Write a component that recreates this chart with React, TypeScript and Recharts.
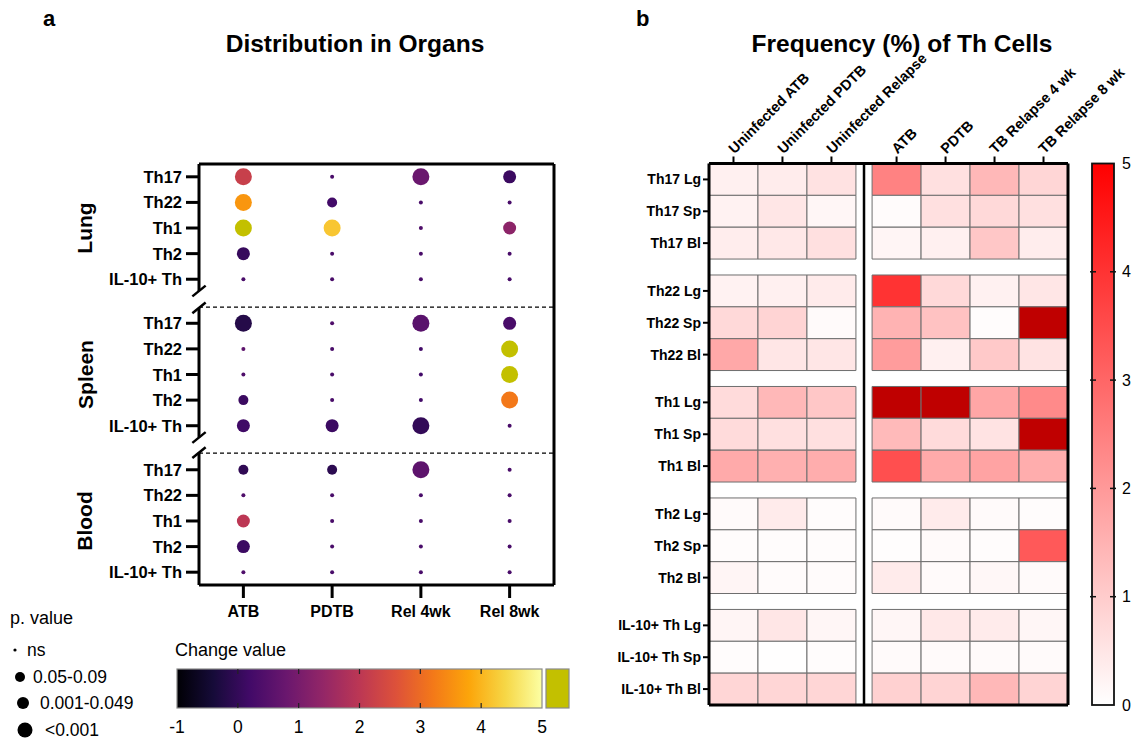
import React from 'react';
import { ScatterChart, Scatter, XAxis, YAxis, ReferenceLine, ReferenceArea } from 'recharts';

const FONT = "Arial, 'Liberation Sans', Helvetica, sans-serif";

// ---------------- Panel a data ----------------
const dotColumns = ['ATB', 'PDTB', 'Rel 4wk', 'Rel 8wk'];
const cellTypes = ['Th17', 'Th22', 'Th1', 'Th2', 'IL-10+ Th'];
const organs = ['Lung', 'Spleen', 'Blood'];
const pLabels = ['ns', '0.05-0.09', '0.001-0.049', '<0.001'];
const changeTicks = [-1, 0, 1, 2, 3, 4, 5];

// change value per cell type (rows) x column
const changeLung = [
  [2.2, 0.3, 0.8, 0.1],
  [3.6, 0.2, 0.3, 0.3],
  [5.5, 4.2, 0.4, 1.3],
  [0.05, 0.3, 0.3, 0.3],
  [0.3, 0.3, 0.3, 0.3],
];
const changeSpleen = [
  [-0.2, 0.4, 0.55, 0.3],
  [0.6, 0.3, 0.2, 5.5],
  [0.4, 0.3, 0.2, 5.5],
  [0.1, 0.3, 0.2, 3.2],
  [0.17, 0.12, 0.0, 0.3],
];
const changeBlood = [
  [-0.05, -0.1, 0.6, 0.3],
  [0.4, 0.3, 0.3, 0.3],
  [2.0, 0.3, 0.3, 0.3],
  [0.12, 0.3, 0.3, 0.3],
  [0.4, 0.3, 0.3, 0.3],
];
// p-value class: 0 ns, 1 0.05-0.09, 2 0.001-0.049, 3 <0.001
const pLung = [
  [3, 0, 3, 2],
  [3, 1, 0, 0],
  [3, 3, 0, 2],
  [2, 0, 0, 0],
  [0, 0, 0, 0],
];
const pSpleen = [
  [3, 0, 3, 2],
  [0, 0, 0, 3],
  [0, 0, 0, 3],
  [1, 0, 0, 3],
  [2, 2, 3, 0],
];
const pBlood = [
  [1, 1, 3, 0],
  [0, 0, 0, 0],
  [2, 0, 0, 0],
  [2, 0, 0, 0],
  [0, 0, 0, 0],
];

// ---------------- Panel b data ----------------
const heatColumns = ['Uninfected ATB', 'Uninfected PDTB', 'Uninfected Relapse', 'ATB', 'PDTB', 'TB Relapse 4 wk', 'TB Relapse 8 wk'];
const heatCellTypes = ['Th17', 'Th22', 'Th1', 'Th2', 'IL-10+ Th'];
const heatOrgans = ['Lg', 'Sp', 'Bl'];
const freqTicks = [0, 1, 2, 3, 4, 5];

const freqTh17 = [
  [0.3, 0.37, 0.57, 2.45, 0.6, 1.4, 0.8],
  [0.25, 0.5, 0.17, 0.08, 0.6, 0.75, 0.6],
  [0.35, 0.45, 0.6, 0.2, 0.3, 1.1, 0.35],
];
const freqTh22 = [
  [0.25, 0.3, 0.4, 4.0, 0.75, 0.27, 0.5],
  [0.75, 0.85, 0.1, 1.5, 1.2, 0.05, 6],
  [1.7, 0.5, 0.5, 1.95, 0.3, 1.05, 0.55],
];
const freqTh1 = [
  [0.7, 1.4, 1.1, 6, 6, 1.75, 2.3],
  [0.7, 0.6, 0.6, 1.35, 0.7, 0.55, 6],
  [1.67, 1.55, 1.6, 3.45, 1.67, 1.8, 1.6],
];
const freqTh2 = [
  [0.1, 0.4, 0.05, 0.1, 0.4, 0.1, 0.05],
  [0.05, 0.05, 0.05, 0.03, 0.1, 0.05, 3.25],
  [0.2, 0.08, 0.08, 0.4, 0.1, 0.15, 0.1],
];
const freqIL10 = [
  [0.2, 0.5, 0.17, 0.17, 0.45, 0.4, 0.17],
  [0.05, 0.02, 0.05, 0.1, 0.1, 0.1, 0.1],
  [0.8, 0.8, 0.8, 0.9, 0.85, 1.4, 0.85],
];

// ---------------- layout constants ----------------
const ORGAN_OFFSET = [0, 5.72, 11.44];
const DOT_Y_DOMAIN: [number, number] = [-0.5, 15.94];
const DASH_Y = [5.09, 10.79];
const AXIS_SEGMENTS = [[-0.5, 4.46], [5.12, 10.18], [10.77, 15.94]];
const SLASH_Y = [4.46, 5.12, 10.18, 10.77];
const DOT_R = [2, 5, 6.5, 8.5];
const LEGEND_R = [1.6, 5, 6, 7.5];

const HEAT_COL_POS = [0, 1, 2, 3.33, 4.33, 5.33, 6.33];
const HEAT_GROUP_STEP = 3.5;
const HEAT_X_DOMAIN: [number, number] = [-0.5, 6.83];
const HEAT_Y_DOMAIN: [number, number] = [-0.5, 16.5];

// ---------------- colour maps ----------------
const INFERNO = ['#000004', '#160b39', '#420a68', '#6a176e', '#932667', '#bc3754', '#dd513a', '#f37819', '#fca50a', '#f6d746', '#fcffa4'];
const OVER_COLOR_A = '#c3c000';
const OVER_COLOR_B = '#bf0000';

function hexRgb(h: string) {
  return [parseInt(h.slice(1, 3), 16), parseInt(h.slice(3, 5), 16), parseInt(h.slice(5, 7), 16)];
}
function inferno(v: number) {
  if (v > 5) return OVER_COLOR_A;
  const t = Math.min(1, Math.max(0, (v + 1) / 6)) * 10;
  const i = Math.min(9, Math.floor(t));
  const f = t - i;
  const a = hexRgb(INFERNO[i]);
  const b = hexRgb(INFERNO[i + 1]);
  const c = a.map((av, k) => Math.round(av + (b[k] - av) * f));
  return `rgb(${c[0]},${c[1]},${c[2]})`;
}
function heatColor(v: number) {
  if (v > 5) return OVER_COLOR_B;
  const g = Math.round(255 * (1 - Math.max(0, v) / 5));
  return `rgb(255,${g},${g})`;
}

// ---------------- derived data ----------------
const changeByOrgan = [changeLung, changeSpleen, changeBlood];
const pByOrgan = [pLung, pSpleen, pBlood];
const dotData = organs.flatMap((organ, oi) =>
  cellTypes.flatMap((cell, ci) =>
    dotColumns.map((col, xi) => ({
      x: xi,
      y: ORGAN_OFFSET[oi] + ci,
      v: changeByOrgan[oi][ci][xi],
      p: pByOrgan[oi][ci][xi],
    }))
  )
);
const dotRows = organs.flatMap((organ, oi) =>
  cellTypes.map((cell, ci) => ({ pos: ORGAN_OFFSET[oi] + ci, label: cell, organ, middle: ci === 2 }))
);
const dotRowTicks = dotRows.map((r) => r.pos);

const heatByType = [freqTh17, freqTh22, freqTh1, freqTh2, freqIL10];
const heatCells = heatByType.flatMap((rows, gi) =>
  rows.flatMap((vals, ri) =>
    vals.map((v, ci) => ({ x: HEAT_COL_POS[ci], y: gi * HEAT_GROUP_STEP + ri, v }))
  )
);
const heatRows = heatCellTypes.flatMap((t, gi) =>
  heatOrgans.map((o, ri) => ({ pos: gi * HEAT_GROUP_STEP + ri, label: `${t} ${o}` }))
);
const heatRowTicks = heatRows.map((r) => r.pos);

// ---------------- tick renderers ----------------
const DotRowTick = (props: any) => {
  const { x, y, payload } = props;
  const info = dotRows.find((r) => Math.abs(r.pos - payload.value) < 1e-6);
  if (!info) return <g />;
  const gx = x - 97;
  return (
    <g>
      <text x={x} y={y} textAnchor="end" dominantBaseline="central" fontWeight="bold" fontSize={16.5} fill="#000" fontFamily={FONT}>
        {info.label}
      </text>
      {info.middle && (
        <text x={gx} y={y} transform={`rotate(-90 ${gx} ${y})`} textAnchor="middle" dominantBaseline="central" fontWeight="bold" fontSize={21} fill="#000" fontFamily={FONT}>
          {info.organ}
        </text>
      )}
    </g>
  );
};

const HeatRowTick = (props: any) => {
  const { x, y, payload } = props;
  const info = heatRows.find((r) => Math.abs(r.pos - payload.value) < 1e-6);
  if (!info) return <g />;
  return (
    <text x={x} y={y} textAnchor="end" dominantBaseline="central" fontWeight="bold" fontSize={14} fill="#000" fontFamily={FONT}>
      {info.label}
    </text>
  );
};

const HeatColTick = (props: any) => {
  const { x, y, payload } = props;
  const idx = HEAT_COL_POS.findIndex((p) => Math.abs(p - payload.value) < 1e-6);
  if (idx < 0) return <g />;
  const ax = x + 1;
  return (
    <text x={ax} y={y} transform={`rotate(-45 ${ax} ${y})`} textAnchor="start" fontWeight="bold" fontSize={14.5} fill="#000" fontFamily={FONT}>
      {heatColumns[idx]}
    </text>
  );
};

const renderDot = (props: any) => {
  const { cx, cy, payload } = props;
  if (cx == null || cy == null) return <g />;
  return <circle cx={cx} cy={cy} r={DOT_R[payload.p]} fill={inferno(payload.v)} />;
};

const noShape = () => <g />;

// ---------------- component ----------------
export default function App() {
  const slashDx = 0.075;
  const slashDy = 0.21;

  // legend a geometry
  const cbX0 = 177;
  const cbX1 = 542;
  const cbY0 = 669;
  const cbY1 = 708;
  const cbPos = (v: number) => cbX0 + ((v + 1) / 6) * (cbX1 - cbX0);

  // legend b geometry
  const hbX0 = 1092;
  const hbX1 = 1114;
  const hbY0 = 163.5;
  const hbY1 = 705;
  const hbPos = (v: number) => hbY1 - (v / 5) * (hbY1 - hbY0);

  const legendRows = [650, 677, 703, 730];
  const legendDotX = [15, 20, 23, 25];
  const legendTextX = [27, 33, 40, 45];

  return (
    <div style={{ position: 'absolute', left: 0, top: 0, width: 1133, height: 741, background: '#fff', fontFamily: FONT }}>
      {/* Panel a chart */}
      <div style={{ position: 'absolute', left: 0, top: 0 }}>
        <ScatterChart width={600} height={741} margin={{ top: 164, right: 46, bottom: 116, left: 10 }}>
          <XAxis
            type="number"
            dataKey="x"
            domain={[-0.5, 3.5]}
            ticks={[0, 1, 2, 3]}
            interval={0}
            allowDataOverflow
            tickFormatter={(v: number) => dotColumns[v] ?? ''}
            axisLine={{ stroke: '#000', strokeWidth: 3 }}
            tickLine={{ stroke: '#000', strokeWidth: 3 }}
            tickSize={13}
            tickMargin={8}
            height={40}
            tick={{ fill: '#000', fontSize: 16, fontWeight: 'bold', fontFamily: FONT }}
          />
          <YAxis
            type="number"
            dataKey="y"
            domain={DOT_Y_DOMAIN}
            reversed
            allowDataOverflow
            ticks={dotRowTicks}
            interval={0}
            axisLine={false}
            tickLine={{ stroke: '#000', strokeWidth: 3 }}
            tickSize={13}
            tickMargin={4}
            width={189}
            tick={(p: any) => <DotRowTick {...p} />}
          />
          {DASH_Y.map((y) => (
            <ReferenceLine key={`d${y}`} y={y} stroke="#000" strokeWidth={1.4} strokeDasharray="4 3" ifOverflow="visible" />
          ))}
          <ReferenceLine segment={[{ x: -0.5, y: -0.5 }, { x: 3.5, y: -0.5 }]} stroke="#000" strokeWidth={3} ifOverflow="visible" />
          <ReferenceLine segment={[{ x: 3.5, y: -0.5 }, { x: 3.5, y: 15.94 }]} stroke="#000" strokeWidth={3} ifOverflow="visible" />
          {AXIS_SEGMENTS.map((s, i) => (
            <ReferenceLine key={`s${i}`} segment={[{ x: -0.5, y: s[0] }, { x: -0.5, y: s[1] }]} stroke="#000" strokeWidth={3} ifOverflow="visible" />
          ))}
          {SLASH_Y.map((y, i) => (
            <ReferenceLine
              key={`sl${i}`}
              segment={[{ x: -0.5 - slashDx, y: y + slashDy }, { x: -0.5 + slashDx, y: y - slashDy }]}
              stroke="#000"
              strokeWidth={2.5}
              ifOverflow="visible"
            />
          ))}
          <Scatter data={dotData} dataKey="y" shape={renderDot} isAnimationActive={false} />
        </ScatterChart>
      </div>

      {/* Panel b chart */}
      <div style={{ position: 'absolute', left: 600, top: 0 }}>
        <ScatterChart width={533} height={741} margin={{ top: 63.5, right: 65, bottom: 36, left: 9 }}>
          <XAxis
            type="number"
            dataKey="x"
            orientation="top"
            domain={HEAT_X_DOMAIN}
            ticks={HEAT_COL_POS}
            interval={0}
            allowDataOverflow
            axisLine={{ stroke: '#000', strokeWidth: 3 }}
            tickLine={{ stroke: '#000', strokeWidth: 2 }}
            tickSize={7}
            tickMargin={2}
            height={100}
            tick={(p: any) => <HeatColTick {...p} />}
          />
          <YAxis
            type="number"
            dataKey="y"
            domain={HEAT_Y_DOMAIN}
            reversed
            allowDataOverflow
            ticks={heatRowTicks}
            interval={0}
            axisLine={{ stroke: '#000', strokeWidth: 3 }}
            tickLine={{ stroke: '#000', strokeWidth: 2 }}
            tickSize={6}
            tickMargin={2}
            width={100}
            tick={(p: any) => <HeatRowTick {...p} />}
          />
          {heatCells.map((c, i) => (
            <ReferenceArea
              key={`c${i}`}
              x1={c.x - 0.5}
              x2={c.x + 0.5}
              y1={c.y - 0.5}
              y2={c.y + 0.5}
              fill={heatColor(c.v)}
              fillOpacity={1}
              stroke="#6e6e6e"
              strokeWidth={1}
              ifOverflow="visible"
            />
          ))}
          <ReferenceLine segment={[{ x: 2.665, y: -0.5 }, { x: 2.665, y: 16.5 }]} stroke="#000" strokeWidth={2.5} ifOverflow="visible" />
          <ReferenceLine segment={[{ x: 6.83, y: -0.5 }, { x: 6.83, y: 16.5 }]} stroke="#000" strokeWidth={3} ifOverflow="visible" />
          <ReferenceLine segment={[{ x: -0.5, y: 16.5 }, { x: 6.83, y: 16.5 }]} stroke="#000" strokeWidth={3} ifOverflow="visible" />
          <Scatter data={heatCells} dataKey="y" shape={noShape} isAnimationActive={false} />
        </ScatterChart>
      </div>

      {/* Titles and legends */}
      <svg width={1133} height={741} style={{ position: 'absolute', left: 0, top: 0, pointerEvents: 'none' }} fontFamily={FONT}>
        <defs>
          <linearGradient id="infernoGrad" x1="0" y1="0" x2="1" y2="0">
            {INFERNO.map((c, i) => (
              <stop key={i} offset={`${i * 10}%`} stopColor={c} />
            ))}
          </linearGradient>
          <linearGradient id="redGrad" x1="0" y1="1" x2="0" y2="0">
            <stop offset="0%" stopColor="#ffffff" />
            <stop offset="100%" stopColor="#ff0000" />
          </linearGradient>
        </defs>

        <text x={43} y={18} dominantBaseline="central" fontWeight="bold" fontSize={22} fill="#000">a</text>
        <text x={355} y={43} textAnchor="middle" dominantBaseline="central" fontWeight="bold" fontSize={24.5} fill="#000">Distribution in Organs</text>
        <text x={636} y={18} dominantBaseline="central" fontWeight="bold" fontSize={22} fill="#000">b</text>
        <text x={902} y={43} textAnchor="middle" dominantBaseline="central" fontWeight="bold" fontSize={24.5} fill="#000">Frequency (%) of Th Cells</text>

        {/* p-value legend */}
        <text x={10} y={618} dominantBaseline="central" fontSize={18} fill="#000">p. value</text>
        {pLabels.map((l, i) => (
          <g key={l}>
            <circle cx={legendDotX[i]} cy={legendRows[i]} r={LEGEND_R[i]} fill="#000" />
            <text x={legendTextX[i]} y={legendRows[i]} dominantBaseline="central" fontSize={17.5} fill="#000">{l}</text>
          </g>
        ))}

        {/* change value colour bar */}
        <text x={175} y={650} dominantBaseline="central" fontSize={18} fill="#000">Change value</text>
        <rect x={cbX0} y={cbY0} width={cbX1 - cbX0} height={cbY1 - cbY0} fill="url(#infernoGrad)" stroke="#8a8a8a" strokeWidth={1.2} />
        {changeTicks.slice(1, -1).map((v) => (
          <g key={`ct${v}`}>
            <line x1={cbPos(v)} x2={cbPos(v)} y1={cbY0} y2={cbY0 + 5} stroke="#222" strokeWidth={1.2} />
            <line x1={cbPos(v)} x2={cbPos(v)} y1={cbY1 - 5} y2={cbY1} stroke="#222" strokeWidth={1.2} />
          </g>
        ))}
        <rect x={546} y={cbY0} width={23} height={cbY1 - cbY0} fill={OVER_COLOR_A} stroke="#8a8a8a" strokeWidth={1.2} />
        {changeTicks.map((v) => (
          <text key={`cl${v}`} x={cbPos(v)} y={727} textAnchor="middle" dominantBaseline="central" fontSize={17.5} fill="#000">{v}</text>
        ))}

        {/* frequency colour bar */}
        <rect x={hbX0} y={hbY0} width={hbX1 - hbX0} height={hbY1 - hbY0} fill="url(#redGrad)" stroke="#111" strokeWidth={1.8} />
        {freqTicks.slice(1, -1).map((v) => (
          <g key={`ft${v}`}>
            <line x1={hbX0 - 2} x2={hbX0 + 4} y1={hbPos(v)} y2={hbPos(v)} stroke="#111" strokeWidth={1.5} />
            <line x1={hbX1 - 4} x2={hbX1 + 2} y1={hbPos(v)} y2={hbPos(v)} stroke="#111" strokeWidth={1.5} />
          </g>
        ))}
        {freqTicks.map((v) => (
          <text key={`fl${v}`} x={1122} y={hbPos(v)} dominantBaseline="central" fontSize={16} fill="#000">{v}</text>
        ))}
      </svg>
    </div>
  );
}
